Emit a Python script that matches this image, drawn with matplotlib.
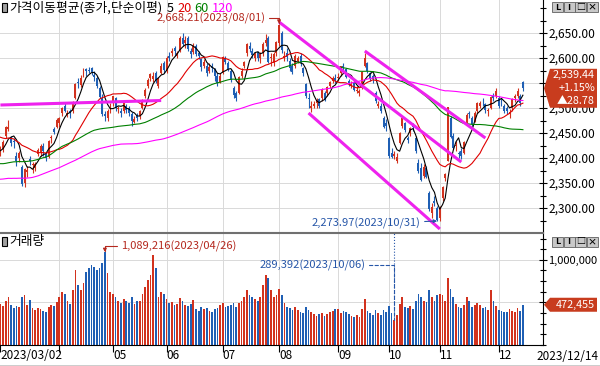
import numpy as np
import pandas as pd
import matplotlib
matplotlib.use('Agg')
import matplotlib.pyplot as plt
from matplotlib.patches import Polygon, Rectangle
from matplotlib.ticker import MultipleLocator, FuncFormatter

plt.rcParams['font.family'] = ['Noto Sans CJK KR', 'DejaVu Sans']

# KOSPI daily 2023/03/02 ~ 2023/12/14
holidays = ['2023-05-01', '2023-05-05', '2023-05-29', '2023-06-06', '2023-08-15',
            '2023-09-28', '2023-09-29', '2023-10-02', '2023-10-03', '2023-10-09']
dates = pd.bdate_range('2023-03-02', '2023-12-14')
dates = dates[~dates.isin(pd.to_datetime(holidays))]

opens = [2412, 2418, 2445, 2458, 2440, 2435, 2405, 2400, 2382, 2350, 2372, 2399, 2386, 2380, 2408, 2412, 2425, 2409, 2402, 2440, 2458, 2462,
         2470, 2490, 2504, 2486, 2495, 2495, 2520, 2552, 2546, 2570, 2578, 2576, 2580, 2567, 2560, 2540, 2520, 2488, 2480, 2500,
         2510, 2520, 2498, 2495, 2495, 2505, 2500, 2488, 2472, 2485, 2484, 2500, 2525, 2545, 2560, 2558, 2570, 2545, 2570, 2590,
         2575, 2605, 2610, 2620, 2605, 2615, 2640, 2630, 2640, 2615, 2612, 2625, 2610, 2598, 2585, 2585, 2575, 2585, 2578, 2565, 2552,
         2570, 2600, 2590, 2575, 2540, 2530, 2530, 2565, 2585, 2610, 2625, 2615, 2600, 2612, 2600, 2610, 2630, 2640, 2600, 2590, 2610,
         2630, 2650, 2600, 2610, 2595, 2585, 2585, 2595, 2605, 2580, 2548, 2520, 2500, 2505, 2510, 2518, 2520, 2530, 2530, 2545, 2555, 2560,
         2560, 2570, 2585, 2578, 2555, 2545, 2550, 2535, 2530, 2540, 2585, 2590, 2570, 2565, 2530, 2505, 2505, 2480, 2470,
         2440, 2410, 2405, 2395, 2430, 2465, 2470, 2440, 2450, 2465, 2440, 2390, 2380, 2365, 2380, 2330, 2290, 2315, 2300,
         2280, 2320, 2360, 2395, 2480, 2445, 2425, 2410, 2415, 2410, 2470, 2490, 2480, 2475, 2495, 2505, 2515, 2508, 2495, 2500, 2525, 2525,
         2520, 2515, 2505, 2500, 2488, 2500, 2520, 2525, 2525, 2552]
highs = [2425, 2436, 2465, 2476, 2445, 2441, 2412, 2414, 2386, 2381, 2385, 2405, 2392, 2393, 2420, 2428, 2430, 2412, 2436, 2447, 2462, 2480,
         2483, 2503, 2510, 2497, 2498, 2515, 2550, 2560, 2566, 2580, 2581, 2583, 2582, 2575, 2565, 2545, 2528, 2495, 2498, 2510,
         2525, 2522, 2505, 2500, 2512, 2508, 2505, 2492, 2485, 2490, 2497, 2518, 2540, 2560, 2570, 2572, 2575, 2562, 2590, 2595,
         2605, 2612, 2620, 2625, 2615, 2645, 2650, 2645, 2645, 2620, 2630, 2628, 2615, 2600, 2598, 2590, 2590, 2590, 2580, 2570, 2570,
         2605, 2605, 2595, 2578, 2545, 2535, 2565, 2580, 2595, 2630, 2632, 2620, 2612, 2615, 2612, 2632, 2648, 2645, 2610, 2612, 2635,
         2668.21, 2655, 2615, 2620, 2600, 2590, 2608, 2605, 2610, 2582, 2550, 2530, 2515, 2515, 2520, 2520, 2540, 2535, 2545, 2555, 2565, 2568,
         2570, 2585, 2590, 2580, 2558, 2555, 2555, 2545, 2538, 2575, 2610, 2592, 2572, 2568, 2535, 2515, 2510, 2485, 2478,
         2442, 2420, 2415, 2410, 2452, 2482, 2472, 2445, 2462, 2470, 2445, 2398, 2390, 2388, 2385, 2335, 2310, 2325, 2305,
         2305, 2345, 2370, 2502, 2485, 2450, 2435, 2415, 2420, 2435, 2490, 2495, 2485, 2495, 2512, 2515, 2520, 2510, 2500, 2525, 2530, 2540,
         2525, 2520, 2508, 2505, 2498, 2520, 2528, 2540, 2528, 2555]
lows = [2405, 2412, 2440, 2455, 2425, 2420, 2385, 2392, 2345, 2342, 2363, 2387, 2370, 2375, 2404, 2405, 2405, 2395, 2401, 2430, 2448, 2460,
        2462, 2484, 2492, 2482, 2480, 2490, 2518, 2540, 2542, 2562, 2565, 2570, 2566, 2555, 2540, 2520, 2485, 2475, 2475, 2490,
        2505, 2495, 2490, 2482, 2490, 2490, 2485, 2465, 2470, 2475, 2478, 2498, 2520, 2540, 2555, 2552, 2550, 2540, 2568, 2570,
        2570, 2595, 2605, 2605, 2600, 2612, 2625, 2620, 2615, 2600, 2608, 2605, 2598, 2575, 2580, 2565, 2570, 2572, 2555, 2545, 2550,
        2568, 2588, 2575, 2552, 2520, 2515, 2528, 2560, 2580, 2605, 2612, 2600, 2595, 2595, 2590, 2605, 2625, 2590, 2585, 2585, 2605,
        2625, 2610, 2595, 2595, 2575, 2568, 2580, 2590, 2585, 2565, 2520, 2500, 2492, 2500, 2500, 2500, 2515, 2515, 2525, 2540, 2550, 2550,
        2555, 2565, 2575, 2560, 2545, 2540, 2535, 2530, 2525, 2538, 2583, 2570, 2555, 2550, 2510, 2500, 2490, 2460, 2455,
        2400, 2400, 2398, 2390, 2428, 2460, 2452, 2430, 2445, 2455, 2410, 2370, 2355, 2360, 2360, 2295, 2280, 2305, 2273.97,
        2275, 2315, 2355, 2394, 2440, 2418, 2415, 2400, 2398, 2408, 2468, 2480, 2465, 2472, 2490, 2500, 2505, 2490, 2485, 2498, 2515, 2520,
        2500, 2505, 2490, 2488, 2480, 2495, 2512, 2520, 2505, 2535]
closes = [2421, 2432, 2462, 2463, 2431, 2432, 2394, 2410, 2348, 2379, 2377, 2395, 2388, 2389, 2417, 2424, 2415, 2400, 2434, 2443, 2453, 2477,
          2480, 2500, 2495, 2490, 2490, 2512, 2548, 2550, 2561, 2571, 2575, 2575, 2572, 2563, 2544, 2523, 2489, 2485, 2495, 2501,
          2524, 2500, 2501, 2491, 2510, 2496, 2491, 2475, 2479, 2480, 2494, 2515, 2537, 2557, 2568, 2564, 2554, 2559, 2585, 2577,
          2601, 2601, 2615, 2615, 2610, 2641, 2629, 2637, 2619, 2608, 2625, 2609, 2604, 2582, 2593, 2570, 2582, 2581, 2564, 2550, 2564,
          2602, 2593, 2579, 2556, 2526, 2520, 2562, 2574, 2592, 2628, 2619, 2607, 2608, 2600, 2609, 2628, 2636, 2592, 2603, 2608, 2632,
          2667, 2616, 2605, 2602, 2580, 2573, 2605, 2601, 2591, 2570, 2525, 2519, 2505, 2508, 2516, 2505, 2537, 2519, 2543, 2552, 2561, 2556,
          2563, 2584, 2582, 2563, 2548, 2548, 2537, 2536, 2534, 2572, 2601, 2574, 2559, 2559, 2514, 2508, 2495, 2462, 2465,
          2405, 2403, 2408, 2402, 2450, 2480, 2456, 2436, 2460, 2462, 2415, 2375, 2357, 2383, 2363, 2299, 2302, 2310, 2277,
          2301, 2343, 2368, 2502, 2443, 2421, 2427, 2409, 2404, 2433, 2486, 2488, 2469, 2491, 2510, 2511, 2514, 2497, 2496, 2522, 2520, 2535,
          2505, 2514, 2495, 2495, 2492, 2518, 2525, 2535, 2510.66, 2539.44]
volumes = [485210, 452300, 521880, 561240, 470350, 431900, 462180, 441570, 563020, 592410, 471360, 523700, 431250, 410880, 432170, 420560, 401930, 382640, 441080, 472350, 452910, 503680,
           562140, 621350, 598720, 521460, 482030, 640810, 881250, 702360, 641870, 722940, 862410, 902350, 941780, 918230, 876520, 903140, 962870, 1089216, 842560, 621380,
           601240, 562380, 521970, 498650, 541320, 520470, 498310, 562780, 481230, 520960, 521840, 602170, 681350, 762480, 821590, 1061420, 902310, 561280, 621740, 598360,
           541480, 491230, 502460, 471370, 482180, 552590, 521370, 471860, 452470, 481930, 522850, 421260, 402370, 451480, 421950, 432360, 402180, 381750, 422630, 431470, 472380,
           491280, 442470, 451960, 472180, 492370, 441840, 491290, 512640, 561570, 642480, 581930, 561470, 542380, 521290, 561480, 701930, 822470, 782160, 642580, 561940, 581280,
           651480, 591930, 492180, 451470, 432360, 411290, 451840, 411570, 392380, 371920, 451680, 411350, 392790, 361860, 342370, 361580, 381290, 342160, 361870, 381560, 402930, 421270,
           422160, 371930, 402370, 381580, 361690, 342380, 331940, 352170, 332560, 421930, 542470, 401280, 371690, 352350, 412180, 371570, 352890, 412380, 381760,
           452370, 371240, 289392, 352180, 481560, 562830, 441470, 432360, 461970, 421560, 522180, 602570, 562190, 521830, 501560, 641970, 562360, 522180, 582470,
           601380, 582460, 522190, 781470, 661580, 561370, 482180, 451590, 431780, 472370, 561280, 512160, 451690, 472350, 491270, 472580, 431690, 451350, 412180, 641960, 512380, 452960,
           412160, 402370, 391580, 381960, 422370, 402480, 391270, 432360, 402180, 472455]
# closes before 2023/03/02, only needed to warm up the moving averages
hist_closes = [2481, 2487, 2490, 2426, 2450, 2472, 2415,
               2409, 2403, 2384, 2376, 2384, 2449, 2411, 2401, 2382, 2355, 2367, 2347, 2332, 2290, 2220, 2223, 2169, 2171, 2155, 2160,
               2209, 2215, 2237, 2232, 2192, 2202, 2162, 2212, 2232, 2249, 2218, 2213, 2236, 2235, 2249, 2267, 2280, 2268, 2293,
               2335, 2337, 2329, 2348, 2371, 2399, 2374, 2402, 2483, 2474, 2480, 2477, 2442, 2451, 2419, 2405, 2418, 2441, 2437, 2408, 2433, 2472,
               2479, 2434, 2419, 2393, 2382, 2371, 2389, 2372, 2373, 2360, 2361, 2356, 2352, 2314, 2332, 2318, 2313, 2317, 2280, 2236,
               2225, 2219, 2264, 2289, 2350, 2351, 2359, 2365, 2386, 2379, 2368, 2380, 2395, 2410, 2395, 2428, 2468, 2450, 2438, 2450,
               2449, 2468, 2480, 2438, 2451, 2451, 2481, 2469, 2452, 2427, 2427, 2452, 2455, 2425, 2458, 2423, 2412, 2418, 2410, 2412]
ma_periods = [5, 20, 60, 120]
ma_colors = ['black', '#e00000', '#008000', '#ff00ff']
# user drawn trend lines: (start date, price, end date, price)
trend_lines = [('2023-03-02', 2506, '2023-05-30', 2515),
               ('2023-08-01', 2672, '2023-11-13', 2392),
               ('2023-09-15', 2614, '2023-11-24', 2440),
               ('2023-08-17', 2490, '2023-11-01', 2258)]

RED = '#d2321e'
BLUE = '#1f5fb4'
W, H = 600, 366

def px(x, y):
    # image pixel -> figure fraction
    return (x / W, 1 - y / H)

o = np.array(opens, float); h = np.array(highs, float)
l = np.array(lows, float); c = np.array(closes, float)
v = np.array(volumes, float)
x = np.arange(len(c))
cols = np.where(c >= o, RED, BLUE)

allc = pd.Series(hist_closes + closes, dtype=float)
mas = {n: allc.rolling(n).mean().to_numpy()[len(hist_closes):] for n in ma_periods}

month_starts = [i for i in range(1, len(dates)) if dates[i].month != dates[i - 1].month]

fig = plt.figure(figsize=(6, 3.66), dpi=100)
ax = fig.add_axes([0, 1 - 232 / H, 543 / W, 232 / H])
axv = fig.add_axes([0, 1 - 345 / H, 543 / W, 112 / H])

# ---- price panel
ax.vlines(x, l, h, colors=cols, lw=0.8, zorder=2)
ax.bar(x, np.maximum(np.abs(c - o), 0.8), bottom=np.minimum(o, c), width=0.75,
       color=cols, lw=0, zorder=2)
for n, mc in zip(ma_periods, ma_colors):
    ax.plot(x, mas[n], color=mc, lw=0.8, zorder=3)
for d0, p0, d1, p1 in trend_lines:
    i0, i1 = dates.get_loc(pd.Timestamp(d0)), dates.get_loc(pd.Timestamp(d1))
    ax.plot([i0, i1], [p0, p1], color='#ee22ee', lw=2.2, solid_capstyle='butt', zorder=4)

ax.set_xlim(-0.15, 202.5)
ax.set_ylim(2252, 2716)
ax.yaxis.tick_right()
ax.set_yticks(np.arange(2300, 2651, 50))
ax.yaxis.set_minor_locator(MultipleLocator(25))
# labels under the current price tag are not shown
ax.yaxis.set_major_formatter(FuncFormatter(
    lambda val, pos: '' if abs(val - c[-1]) < 30 else f'{val:,.2f}'))
ax.tick_params(axis='y', which='major', direction='inout', length=6, width=0.8, pad=1, labelsize=8.6)
ax.tick_params(axis='y', which='minor', direction='inout', length=4, width=0.8)
ax.set_xticks([])
ax.yaxis.grid(True, color='#d9d9d9', lw=0.7)
ax.set_axisbelow(True)
for m in month_starts:
    ax.axvline(m, color='#d9d9d9', lw=0.7, zorder=0)
for s in ['top', 'left']:
    ax.spines[s].set_visible(False)
ax.spines['right'].set_color('black')
ax.spines['bottom'].set_color('#707070')

hi_i = int(np.argmax(h)); lo_i = int(np.argmin(l))
ax.annotate(f'{h[hi_i]:,.2f}({dates[hi_i]:%Y/%m/%d})', xy=(hi_i, h[hi_i]), xytext=(-10, 4),
            textcoords='offset points', ha='right', va='center', color='#b4281e', fontsize=8,
            arrowprops=dict(arrowstyle='-|>', color='#b4281e', lw=0.8, mutation_scale=5,
                            shrinkA=1, shrinkB=0, connectionstyle='angle,angleA=0,angleB=90,rad=0'),
            zorder=5)
ax.annotate(f'{l[lo_i]:,.2f}({dates[lo_i]:%Y/%m/%d})', xy=(lo_i, l[lo_i]), xytext=(-12, -2),
            textcoords='offset points', ha='right', va='center', color='#2656a8', fontsize=8,
            arrowprops=dict(arrowstyle='-|>', color='#2656a8', lw=0.8, mutation_scale=5,
                            shrinkA=1, shrinkB=0),
            zorder=5)

# ---- volume panel
axv.bar(x, v, width=0.65, color=cols, lw=0, zorder=2)
axv.set_xlim(ax.get_xlim())
axv.set_ylim(0, 1314600)
axv.yaxis.tick_right()
axv.set_yticks([500000, 1000000])
axv.yaxis.set_minor_locator(MultipleLocator(125000))
axv.yaxis.set_major_formatter(FuncFormatter(
    lambda val, pos: '' if abs(val - v[-1]) < 80000 else f'{val:,.0f}'))
axv.tick_params(axis='y', which='major', direction='inout', length=6, width=0.8, pad=1, labelsize=8)
axv.tick_params(axis='y', which='minor', direction='inout', length=4, width=0.8)
axv.yaxis.grid(True, color='#d9d9d9', lw=0.7)
axv.set_axisbelow(True)
for m in month_starts:
    axv.axvline(m, color='#d9d9d9', lw=0.7, zorder=0)
tick_pos = [0] + month_starts
tick_lab = [f'{dates[0]:%Y/%m/%d}'] + ['' if m < 30 else f'{dates[m]:%m}' for m in month_starts]
axv.set_xticks(tick_pos)
axv.set_xticklabels(tick_lab, ha='left', fontsize=8.5)
axv.tick_params(axis='x', direction='out', length=5, width=0.8, pad=-2)
axv.spines['left'].set_visible(False)
axv.spines['top'].set_color('#707070')
axv.spines['right'].set_color('black')
axv.spines['bottom'].set_color('black')

vmax_i = int(np.argmax(v)); vmin_i = int(np.argmin(v))
axv.annotate(f'{v[vmax_i]:,.0f}({dates[vmax_i]:%Y/%m/%d})', xy=(vmax_i, v[vmax_i]), xytext=(12, 4.5),
             textcoords='offset points', ha='left', va='center', color='#b4281e', fontsize=8,
             arrowprops=dict(arrowstyle='-|>', color='#b4281e', lw=0.8, mutation_scale=5,
                             shrinkA=1, shrinkB=0, connectionstyle='angle,angleA=0,angleB=90,rad=0'),
             zorder=5)
axv.vlines(vmin_i, v[vmin_i], axv.get_ylim()[1], colors='#2656a8', linestyles=':', lw=0.8, zorder=3)
axv.annotate(f'{v[vmin_i]:,.0f}({dates[vmin_i]:%Y/%m/%d})', xy=(vmin_i, v[vmin_i]), xytext=(-21, 39.5),
             textcoords='offset points', ha='right', va='center', color='#2656a8', fontsize=8,
             arrowprops=dict(arrowstyle='-', color='#2656a8', lw=0.8, ls=(0, (3, 2)),
                             shrinkA=1, shrinkB=0, connectionstyle='angle,angleA=0,angleB=90,rad=0'),
             zorder=5)

# ---- titles / legend
renderer = fig.canvas.get_renderer()
for yy, label in [(8, '가격이동평균(종가,단순이평)'), (242, '거래량')]:
    fig.add_artist(Rectangle(px(2, yy + 4), 5 / W, 9 / H, transform=fig.transFigure,
                             fc='#a0a0a0', ec='black', lw=0.8))
    t = fig.text(*px(9, yy), label, fontsize=9.2, va='center', ha='left')
    if yy == 8:
        xx = t.get_window_extent(renderer).x1 + 5
for n, mc in zip(ma_periods, ma_colors):
    t = fig.text(*px(xx, 8), str(n), fontsize=9.2, color=mc, va='center', ha='left')
    xx = t.get_window_extent(renderer).x1 + 3

# window buttons
for yy in [2, 237]:
    for k, ch in enumerate(['L', 'I', '□', '×']):
        x0 = 552 + k * 11.5
        fig.add_artist(Rectangle(px(x0, yy + 10), 11 / W, 10 / H, transform=fig.transFigure,
                                 fc='#c8c8c8', ec='#606060', lw=0.6, zorder=6))
        fig.text(*px(x0 + 5.5, yy + 5), ch, fontsize=6.5, fontweight='bold',
                 ha='center', va='center', zorder=7)

# current value tags
def tag(axis, val, half, lines):
    ty = H - axis.transData.transform((0, val))[1]
    poly = [(544, ty), (550, ty - half), (597, ty - half), (597, ty + half), (550, ty + half)]
    fig.add_artist(Polygon([px(*p) for p in poly], closed=True, transform=fig.transFigure,
                           fc='#c83c1e', ec='none', zorder=5))
    n = len(lines)
    for k, t in enumerate(lines):
        fig.text(*px(595, ty + (k - (n - 1) / 2) * 12.8), t, color='white', fontsize=7.8,
                 ha='right', va='center', zorder=6)

chg = c[-1] - c[-2]
tag(ax, c[-1], 19.5, [f'{c[-1]:,.2f}', f'{chg / c[-2] * 100:+.2f}%', f'▲{chg:,.2f}'])
tag(axv, v[-1], 7, [f'{v[-1]:,.0f}'])

fig.text(*px(598, 356), f'{dates[-1]:%Y/%m/%d}', fontsize=8.5, ha='right', va='center')
fig.add_artist(plt.Line2D([0, 1], [0.5 / H, 0.5 / H], transform=fig.transFigure, color='black', lw=1))

fig.savefig('out.png', dpi=100)
